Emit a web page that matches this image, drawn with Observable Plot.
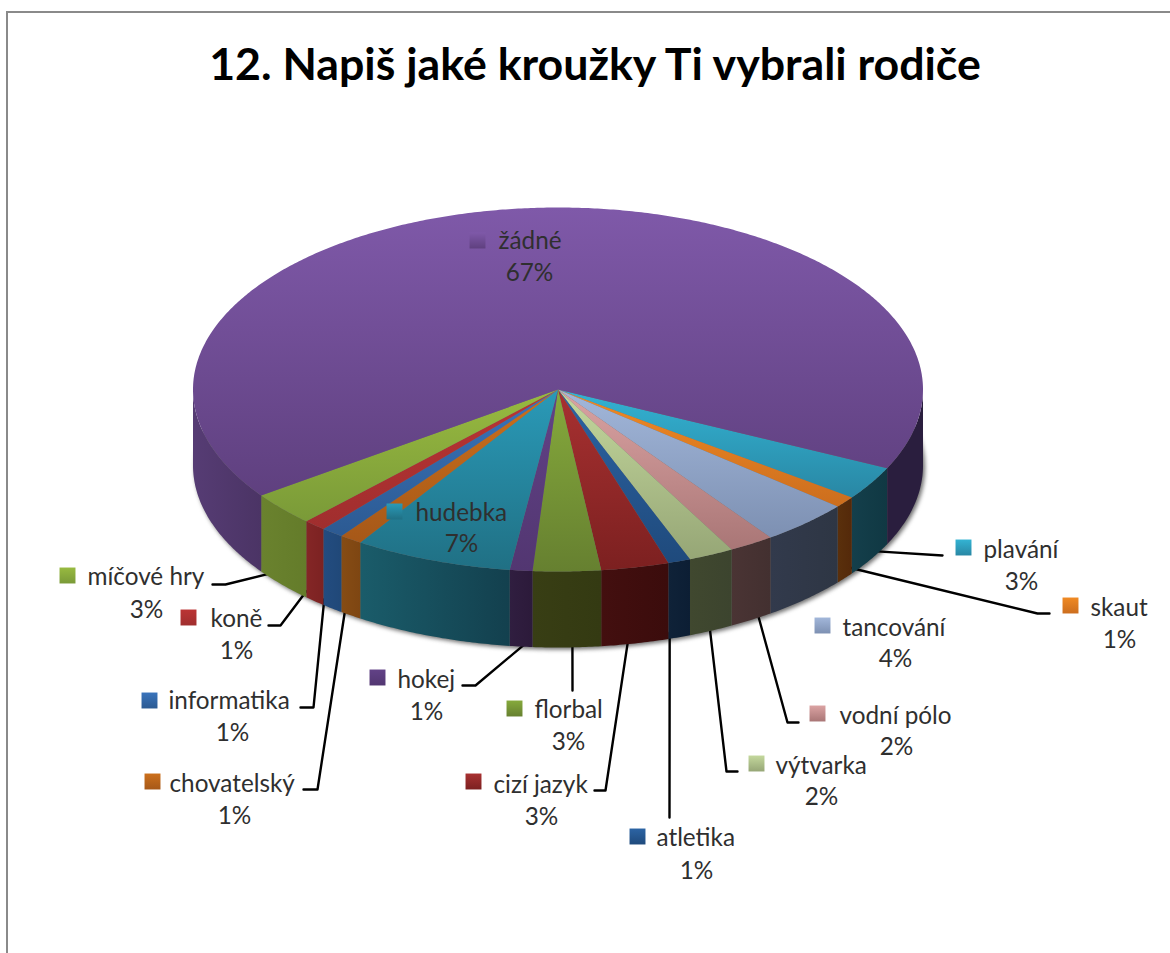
<!DOCTYPE html>
<html lang="cs">
<head>
<meta charset="utf-8">
<title>12. Napiš jaké kroužky Ti vybrali rodiče</title>
<script src="https://cdn.jsdelivr.net/npm/d3@7"></script>
<script src="https://cdn.jsdelivr.net/npm/@observablehq/plot@0.6"></script>
<style>
  html, body { margin: 0; padding: 0; background: #fff; overflow: hidden; }
  #page { position: relative; width: 1170px; height: 953px; overflow: hidden; }
  #frame { position: absolute; left: 6px; top: 11px; width: 1300px; height: 1100px;
           border-left: 2px solid #8a8a8a; border-top: 2px solid #8a8a8a; }
  #title { position: absolute; left: 0; top: 0; width: 1190px; height: 100px;
           text-align: center; font: 700 44.7px/126px Lato, sans-serif; color: #000; }
  #chart { position: absolute; left: 0; top: 100px; }
  svg { display: block; }
</style>
</head>
<body>
<div id="page">
  <div id="frame"></div>
  <div id="title">12. Napiš jaké kroužky Ti vybrali rodiče</div>
  <div id="chart"></div>
</div>
<script>
// Slices, clockwise from the right-hand side of the pie.
const categories = ["plavání", "skaut", "tancování", "vodní pólo", "výtvarka", "atletika", "cizí jazyk", "florbal",
  "hokej", "hudebka", "chovatelský", "informatika", "koně", "míčové hry", "žádné"];
const percents = [3, 1, 4, 2, 2, 1, 3, 3, 1, 7, 1, 1, 1, 3, 67];

// Top face colours (light to dark) and side wall colours (left to right).
const topLight = ["#33b3d3", "#f08a24", "#a2b7da", "#dba3a3", "#c4d89d", "#2c64a4", "#a83131", "#86aa3c",
  "#624287", "#2a9ab8", "#cc701c", "#3a74bc", "#bb3434", "#98ba40", "#7f59a9"];
const topDark = ["#2987a4", "#cc6e1e", "#7d90b2", "#a97676", "#96a676", "#1f4a7c", "#7c2020", "#668030",
  "#523671", "#207084", "#a65818", "#2c5a92", "#a02e2e", "#7a9a38", "#5f407f"];
const wallLeft = ["#143f4b", "#5a300c", "#323a4c", "#4a3434", "#40482f", "#0f2238", "#430f0f", "#383e14",
  "#301e40", "#1a5c6a", "#864c14", "#234c80", "#842626", "#6a822e", "#563c74"];
const wallRight = ["#103843", "#54290a", "#2e3644", "#433030", "#3c442e", "#0c1e34", "#3b0c0c", "#343a12",
  "#2c1a3a", "#13404e", "#7e4612", "#204878", "#7c2222", "#647c2a", "#4b3465"];
const wallBack = "#2a1e3e";

// Where each label sits: swatch centre, name start, name/percent centre lines.
const swatchX = [963, 1070, 822, 817, 756, 637, 473, 514, 377, 394, 152, 149, 188, 67, 477];
const swatchY = [547, 605, 625, 713, 763, 836, 781, 708, 677, 511, 781, 700, 617, 575, 240];
const nameX = [983, 1090, 842, 839, 775, 656, 493, 534, 397, 415, 169, 168, 210, 87, 498];
const nameY = [550, 608, 628, 716, 766, 838, 785, 710, 680, 513, 784, 701, 619, 577, 241];
const percentX = [1021, 1119, 895, 896, 821, 696, 541, 568, 426, 461, 234, 232, 236, 146, 529];
const percentY = [582, 640, 659, 747, 797, 871, 817, 742, 712, 544, 816, 733, 651, 610, 273];

// Leader lines: position along the slice edge, then the bend points towards the label.
const leaderAlong = [0.43, 0.05, null, 0.35, 0.54, 0.94, 0.6, 0.42, 0.17, null, 0.78, 0.95, 1, 0.73, null];
const leaderBends = [[[942, 555]], [[1037, 613], [1049, 613]], null, [[787, 722], [798, 722]], [[726, 771], [737, 771]],
  [[669, 817]], [[605, 790], [594, 790]], [[572, 690]], [[475, 685], [462, 685]], null,
  [[317, 789], [303, 789]], [[313, 707], [300, 707]], [[280, 625], [268, 625]], [[225, 584], [212, 584]], null];

// Projection of the tilted disc.
const cx = 557.5, cy = 389, rx = 365, ry = 182, depth = 76, startAngle = 25.6;
const rad = Math.PI / 180;
const at = (t, drop = 0) => ({x: cx + rx * Math.cos(t * rad), y: cy + drop + ry * Math.sin(t * rad)});
const arc = (a, b, drop = 0) => {
  const n = Math.max(2, Math.ceil(Math.abs(b - a) * 2));
  return d3.range(n + 1).map((i) => at(a + (b - a) * i / n, drop));
};

let running = startAngle;
const slices = categories.map((name, i) => {
  const a0 = running;
  running += percents[i] * 3.6;
  return {name, i, a0, a1: running, percent: percents[i]};
});

// Parts of an angular span that face the viewer.
const frontSpans = ({a0, a1}) => [[0, 180], [360, 540]]
  .map(([lo, hi]) => [Math.max(a0, lo), Math.min(a1, hi)])
  .filter(([lo, hi]) => hi > lo);

const fx = {x: "x", y: "y"};
const marks = [];

// Soft shadow under the disc.
marks.push(Plot.line(arc(0, 360, depth).map((p) => ({x: p.x + 2, y: p.y + 2})),
  {...fx, fill: "#6f6f6f", stroke: "none", imageFilter: "blur(2px)"}));

// Leader lines start under the walls, so only their outer part shows.
const leaders = slices.flatMap((s) => {
  if (leaderAlong[s.i] == null) return [];
  const p = at(s.a0 + (s.a1 - s.a0) * leaderAlong[s.i], depth - 6);
  return [p, ...leaderBends[s.i].map(([x, y]) => ({x, y}))].map((q) => ({...q, name: s.name}));
});
marks.push(Plot.line(leaders, {...fx, z: "name", stroke: "#000", strokeWidth: 2.4, strokeLinejoin: "round"}));

// Side walls.
slices.forEach((s) => {
  frontSpans(s).forEach(([a, b]) => {
    const outline = [...arc(a, b, 0), ...arc(b, a, depth)];
    const id = a >= 360 ? "wallBack" : `wall${s.i}`;
    marks.push(Plot.line(outline, {...fx, fill: `url(#${id})`, stroke: "none"}));
  });
});

// Top faces.
slices.forEach((s) => {
  const outline = [{x: cx, y: cy}, ...arc(s.a0, s.a1, 0)];
  marks.push(Plot.line(outline, {...fx, fill: `url(#top${s.i})`, stroke: "none"}));
});

// Labels: one swatch per slice, then the name and its percentage.
const labelFont = {fontFamily: "Lato, sans-serif", fontSize: 24.3, fill: "#2f2f2f"};
slices.forEach((s) => {
  marks.push(Plot.dot([s], {
    x: () => swatchX[s.i], y: () => swatchY[s.i], symbol: "square", r: 9,
    fill: `url(#swatch${s.i})`, stroke: "none"
  }));
});
marks.push(Plot.text(slices, {
  x: (s) => nameX[s.i], y: (s) => nameY[s.i], text: "name", textAnchor: "start", ...labelFont
}));
marks.push(Plot.text(slices, {
  x: (s) => percentX[s.i], y: (s) => percentY[s.i], text: (s) => `${s.percent}%`, ...labelFont
}));

const chart = Plot.plot({
  width: 1170, height: 853, margin: 0,
  x: {domain: [0, 1170], range: [0, 1170], axis: null},
  y: {domain: [100, 953], range: [0, 853], axis: null},
  style: {background: "transparent"},
  marks
});

// Gradients for the faces of the disc and the swatches.
const defs = d3.create("svg:defs");
const gradient = (id, from, to, horizontal) => {
  const g = defs.append("linearGradient").attr("id", id)
    .attr("x1", 0).attr("y1", 0).attr("x2", horizontal ? 1 : 0).attr("y2", horizontal ? 0 : 1);
  g.append("stop").attr("offset", 0).attr("stop-color", from);
  g.append("stop").attr("offset", 1).attr("stop-color", to);
};
slices.forEach((s) => {
  gradient(`top${s.i}`, topLight[s.i], topDark[s.i], false);
  gradient(`swatch${s.i}`, topLight[s.i], topDark[s.i], false);
  gradient(`wall${s.i}`, wallLeft[s.i], wallRight[s.i], true);
});
gradient("wallBack", wallBack, wallBack, true);
chart.insertBefore(defs.node(), chart.firstChild);

document.getElementById("chart").append(chart);
</script>
</body>
</html>
